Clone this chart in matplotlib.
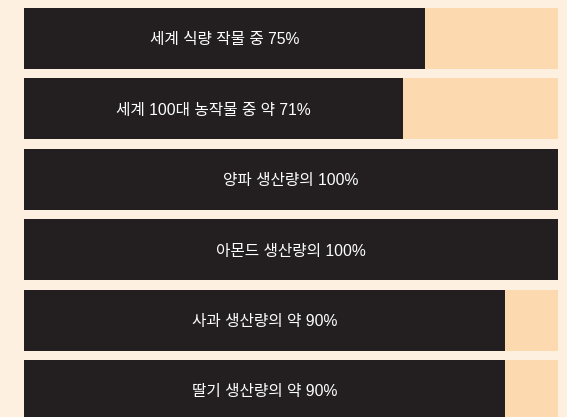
import matplotlib
matplotlib.use("Agg")
import matplotlib.pyplot as plt

plt.rcParams['font.family'] = ['Liberation Sans', 'Noto Sans CJK KR', 'DejaVu Sans']

labels = ["세계 식량 작물 중 75%", "세계 100대 농작물 중 약 71%", "양파 생산량의 100%",
          "아몬드 생산량의 100%", "사과 생산량의 약 90%", "딸기 생산량의 약 90%"]
values = [75, 71, 100, 100, 90, 90]
total = 100

bg = "#fdf0e0"
track = "#fdd9b0"
dark = "#231f20"

fig = plt.figure(figsize=(5.67, 4.17), dpi=100, facecolor=bg)
ax = fig.add_axes([0, 0, 1, 1])
ax.set_facecolor(bg)

pos = list(range(len(values)))
h = 61 / 70.4
ax.barh(pos, [total] * len(values), height=h, color=track, linewidth=0)
ax.barh(pos, values, height=h, color=dark, linewidth=0)
for p, v, lab in zip(pos, values, labels):
    ax.annotate(lab, (v / 2, p), xytext=(0, -1.0), textcoords="offset points",
                color="white", ha="center", va="center", fontsize=11.3)

ax.set_xlim(-24 / 534 * 100, (567 - 24) / 534 * 100)
ax.set_ylim((417 - 38.5) / 70.4, -38.5 / 70.4)
ax.axis("off")

fig.savefig("out.png", dpi=100, facecolor=bg)
